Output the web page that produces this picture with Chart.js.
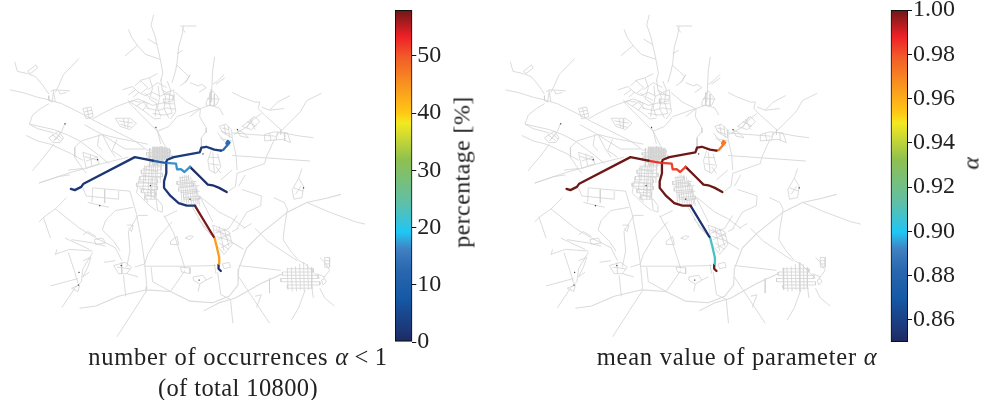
<!DOCTYPE html>
<html>
<head>
<meta charset="utf-8">
<script src="https://cdn.jsdelivr.net/npm/chart.js@4/dist/chart.umd.min.js"></script>
<style>
html, body { margin: 0; background: #fff; overflow: hidden; }
canvas { position: absolute; top: 0; }
.lbl { position: absolute; font-family: "Liberation Serif", serif; color: #222; font-size: 24px; white-space: nowrap; }
.rot { transform: translate(-50%, -50%) rotate(-90deg); letter-spacing: 0.4px; }
.cap { text-align: center; font-size: 24.5px; line-height: 31px; transform: translateX(-50%); letter-spacing: 0.75px; }
.cap span { letter-spacing: 0.4px; }
</style>
</head>
<body>
<canvas id="mapA" style="left:0"></canvas>
<canvas id="barA" style="left:380px"></canvas>
<canvas id="mapB" style="left:495px"></canvas>
<canvas id="barB" style="left:875px"></canvas>
<div class="lbl rot" style="left:462px;top:172px">percentage [%]</div>
<div class="lbl rot" style="left:971px;top:163px"><i>α</i></div>
<div class="lbl cap" style="left:238px;top:341px">number of occurrences <i>α</i>&thinsp;&lt;&thinsp;1<br><span>(of total 10800)</span></div>
<div class="lbl cap" style="left:737px;top:341px">mean value of parameter <i>α</i></div>
<script>
// colour scale
const cmapPos = [0, 0.03, 0.13, 0.22, 0.28, 0.33, 0.42, 0.55, 0.66, 0.69, 0.78, 0.86, 0.92, 1];
const cmapCol = ['#1f2860', '#1d3473', '#1558a5', '#2a68b0', '#4180c2', '#1fc6f4', '#60bfa8', '#8fc04f', '#f3e921', '#ffc815', '#f89020', '#f15a29', '#ee2027', '#6e1717'];

const pctTicks = [0, 10, 20, 30, 40, 50];
const alphaTicks = [0.86, 0.88, 0.90, 0.92, 0.94, 0.96, 0.98, 1.00];

// coloured route pieces, flat x,y lists in map units
const routePaths = [
  [203,568,215,572,235,562,242,552,400,470,455,481],
  [455,481,475,485,495,488],
  [495,488,500,478,520,470,545,465,600,455,605,441,620,438,645,447,665,450],
  [665,450,672,448,685,433,692,425,686,420,682,428],
  [497,488,527,490,530,508,542,507,553,516,570,500],
  [570,500,580,510,600,530,625,555,640,557,660,565,683,578],
  [497,490,497,520,490,545,490,565,510,590,535,612,560,620,585,620],
  [585,620,643,716],
  [645,718,652,745,660,780,660,800],
  [658,802,658,815,665,822]
];
const routePct = [2, 11, 3, 13, 17, 1, 2, 57.5, 44, 1];
const routeAlpha = [1, 0.985, 1, 0.972, 0.983, 1, 1, 0.853, 0.908, 1];

// wider bypass roads
const majorRoads = [
  [1035,585,990,597,930,610,870,640,790,705,745,750,720,815,718,865,690,900,640,920,570,915,510,885,435,880,350,900,280,930,230,937],
  [612,945,660,920,710,905,790,860,855,830],
  [695,730,735,755],
  [700,465,800,472,940,482]
];

const roads = [
  // north and north west
  [458,30,450,62,462,95,470,130,480,175,486,210,480,235],
  [380,75,390,100,408,125,432,152,478,168],[408,125,388,142,370,157],[440,105,468,122],
  [550,65,545,95,535,130,530,180,525,205,515,240],[540,65,590,65],[545,70,555,85],[530,150,548,140],[528,185,550,205,565,220],
  [228,165,205,190,180,215,165,250,155,270],
  [30,175,38,205,70,212,95,222,118,250,135,275],[70,205,95,185,100,195,78,212,70,205],
  [15,262,60,272,100,285,135,293,175,305,235,335],
  [140,268,150,262,200,265],[150,262,145,300,135,295],[135,280,135,295],[150,270,155,300],[165,265,170,275,190,270],
  [135,305,110,320,85,340,75,368,100,382,150,395],
  [235,335,280,360,320,380,400,420,440,450],
  [75,368,150,385,190,400,230,420,290,465,320,490],
  [65,403,100,420,140,430,205,460,240,480],
  [150,430,120,470,90,505,85,512],[185,365,175,390,150,420],
  [135,410,165,390,180,410,170,425,148,425,135,410],[145,400,170,420],[155,395,178,415],[150,420,170,400],
  [240,320,265,315,272,345,250,352,240,320],[245,330,268,325],[248,340,270,335],[252,318,260,350],
  [270,352,300,335,340,315,380,300,400,295],
  [215,440,215,470,235,500,250,520],[215,440,235,420,300,400,340,410,440,430],
  [245,370,290,395,330,420,370,445,430,445],
  [290,400,285,435,300,450],[300,400,320,440,340,470],[345,415,330,450,360,470],
  [340,350,385,350,405,365,385,385,355,375,340,350],[350,358,395,365],[355,368,390,378],[365,352,370,378],[380,352,378,382],
  [240,455,285,470,290,490,250,505,240,455],[245,468,288,480],[250,482,285,470],[262,460,268,498],
  [105,550,200,518,300,490,380,470],[195,510,240,505],[380,300,440,360,470,390,480,430],[465,380,495,440],[470,390,505,375,530,345],
  // north town, irregular
  [362,262,392,252,412,270,395,285],[400,250,420,232,445,225,470,212],[415,232,440,255,420,272],[378,295,405,312,432,330,460,352,480,350],
  [385,298,410,290,440,305,425,325],[408,268,432,280,455,270,478,282,500,270,520,262],[445,226,455,255,445,290,468,305,462,345],
  [480,230,485,262,495,285,490,320,505,350],[500,235,510,262,505,300,515,335],[520,262,522,300,526,330,510,352],
  [440,262,470,240,498,255],[472,250,476,285,470,318,480,345],[425,296,455,310,488,302,520,296],[435,318,470,326,498,318,525,322],
  [455,335,490,340,515,335],[482,262,515,280],[488,275,520,280,518,292,488,290,490,305,520,305],[405,312,425,300,445,322],
  [402,262,380,278],[418,300,400,298],[450,285,470,295],[430,272,445,285],
  [555,240,570,215,560,235,540,250],[530,345,600,320],[525,270,560,300,600,320],
  // north east
  [646,160,640,200,637,260,635,300],[620,300,640,265,660,290,650,310,620,310,620,300],[632,270,632,310],[645,275,645,310],[622,290,658,290],
  [675,215,655,235,640,245],[677,225,650,245],[570,240,595,250,605,245,620,255,598,270],
  [600,345,602,320,630,310,660,318,672,340],[602,320,570,345],[600,345,620,380,620,395],[620,390,605,410,605,450],
  [700,270,730,285,770,300,785,300,780,320,800,340,850,385,850,400],
  [878,280,840,300,815,325,790,315],[815,325,860,320],
  [975,273,930,295,910,330,880,360,850,390,830,410],[830,415,805,470,800,490,715,520],
  [705,400,740,380,770,350,790,335],[730,375,770,345,785,360,760,385,730,375],[745,360,775,375],[755,352,770,385],[765,345,745,380],
  [855,395,910,405,950,410],[800,400,830,392,870,395,880,425,855,415,800,420,800,400],[815,395,820,420],[840,392,835,418],[860,395,862,420],
  [700,395,760,400,830,405],[715,385,725,405,750,410,735,395,715,385],
  [660,375,680,368,698,385,700,410,690,405,672,395,660,375],[668,380,690,385],[665,390,695,400],[675,370,680,400],[688,375,692,410],[700,410,712,465,715,510],
  [655,395,672,415,700,420],[662,410,695,435],[635,450,625,480,630,510,650,520,665,500,655,460],[628,470,660,472],[630,490,660,495],[640,455,645,520],[650,500,665,520],
  [715,520,710,560,690,575],[740,525,720,560],[700,510,665,540],
  // centre town
  [440,448,510,448,510,456,436,456,436,464,515,464,515,472,436,472,436,480,490,480],
  [446,442,446,500],[456,438,456,495],[466,438,466,495],[476,438,476,485],[486,438,486,480],[496,440,496,478],[506,442,506,475],
  [452,442,500,442],[451,452,500,452],[440,460,512,460],[440,468,510,468],[440,476,495,476],[442,485,490,490],[438,495,490,495],
  [481,436,481,500],[461,438,461,498],[471,438,471,498],[491,440,491,478],[501,442,501,472],
  // south west quarter
  [430,500,480,500,480,510,420,510,420,520,485,520,485,530,415,530,415,540,470,540,470,550,405,550,405,560,470,560,470,570,420,570,420,580,465,580,465,590,430,590,430,600,470,600],
  [430,495,425,570,440,610],[445,495,440,590],[458,495,450,600],[470,500,465,590,470,635,485,640,485,620,470,600],[482,495,478,550],[415,530,405,580,440,615,465,635],
  [436,498,432,545],[452,498,448,590],[464,498,460,600],[425,505,470,515],[420,525,480,535],[412,545,470,555],[412,565,465,575],[430,585,465,595],
  // south east quarter
  [535,535,565,530,565,540,530,545,530,555,580,550,580,560,535,565,535,575,590,570,590,580,550,585,550,595,600,590,600,600,570,605],
  [540,530,545,610],[552,525,560,615],[565,525,575,615],[578,540,590,620],[590,560,600,620],[600,590,640,670],[605,595,660,640,700,660],
  [546,528,552,610],[558,525,566,612],[572,530,582,615],[584,548,595,615],[535,550,590,545],[532,560,598,558],[540,580,600,575],[550,600,600,598],
  // south
  [640,680,690,700,700,740,675,770,650,740,640,680],[645,695,695,715],[652,715,698,730],[660,735,690,755],[660,685,675,760],[675,690,690,745],
  [650,690,690,725],[648,705,690,690],[655,725,695,705],[665,750,695,735],
  [595,660,640,715],[575,620,615,690,640,715],[700,660,740,690],[715,650,690,690],[735,690,760,675],[700,700,720,690],
  [670,800,690,795,695,810,675,815,670,800],[655,825,665,895,695,910,702,983],[645,800,650,830],
  // east
  [905,535,885,570,890,600,915,595,920,560,905,535],[890,565,918,575],[895,585,912,560],[915,505,905,535],
  [930,610,1000,640,1080,670,1110,677],
  [828,595,860,610,870,630,860,695,857,725,880,760,905,790],
  [730,570,790,590,788,620,745,640,715,690],[770,690,810,730,870,770,900,790],
  [720,805,810,815,850,820],[815,845,815,890],[720,840,750,885,815,983],[770,900,790,895,775,935],
  [925,880,905,935,883,973],[970,875,985,905,1015,930],[945,870,950,905],
  [985,780,1000,780,1000,810,985,810,985,780],[985,790,1000,790],[985,800,1000,800],[970,780,985,795,1000,820,980,845],
  [975,850,985,845,990,855,980,865,975,850],
  [868,815,950,815,950,825,855,825,855,835,965,835,965,845,850,845,850,855,970,855,970,865,870,865,870,875,950,875],
  [870,812,872,880],[882,810,885,885],[895,808,898,885],[908,800,910,880],[920,795,922,885],[932,800,935,880],[945,810,945,875],[905,790,925,800,970,845],[960,830,985,840],
  // south west
  [105,550,165,530,200,525],[190,595,155,630,120,655,105,670],[118,655,140,720],
  [155,630,230,690,280,720,340,750,360,790],
  [270,565,385,575,405,645,420,725,430,795,437,870,435,885],[435,885,345,1025],
  [395,625,340,635,310,665,300,695,335,730,355,760],
  [240,565,250,590,350,600,350,575],[270,565,268,610],[307,570,307,612],[255,610,320,625],
  [205,725,270,735,310,745],[185,720,260,755],[155,770,200,755,270,760],[160,755,155,772],[195,765,215,825],
  [240,710,255,700,280,715],[275,725,300,720,310,735,280,740,275,725],[305,795,340,790],
  [270,765,240,815,235,855,215,875,175,935],[240,790,265,780,255,810,240,840,260,825],
  [205,875,230,865,225,885,205,875],[140,868,225,845],[215,825,225,860],
  [335,805,370,795,390,810,375,830,350,830,335,805],[345,810,385,815],[358,795,360,830],[365,835,372,900],[400,810,430,800],[375,830,410,840],
  [410,650,380,700,385,760,375,810],[375,680,395,680,390,700,380,690],[410,650,440,650],
  [490,650,520,705,555,815],[515,670,470,720,440,770,430,800],
  [430,807,560,807,650,805],[450,810,455,855,510,885],[510,885,555,820],
  [510,730,530,715,535,740,510,740,510,730],[555,720,570,713,580,715,570,725,555,720],[490,655,530,635],
  [540,810,570,812,570,830,545,825,540,810],[580,840,610,835,620,850,600,862,580,850,580,840],[620,850,640,840],[600,862,595,885]
];

// small dark specks in the map
const specksX = [185, 465, 285, 448, 292, 570, 358, 228, 226, 598, 920, 716, 610];
const specksY = [367, 378, 478, 558, 620, 600, 805, 826, 865, 850, 565, 385, 460];

function hexRgb(h) {
  return [1, 3, 5].map(i => parseInt(h.substr(i, 2), 16));
}

// same interpolation as the colorbar gradient
function cmap(t) {
  t = Math.min(1, Math.max(0, t));
  let i = 0;
  while (i < cmapPos.length - 2 && t > cmapPos[i + 1]) i++;
  const f = (t - cmapPos[i]) / (cmapPos[i + 1] - cmapPos[i]);
  const a = hexRgb(cmapCol[i]), b = hexRgb(cmapCol[i + 1]);
  const c = a.map((v, k) => Math.round(v + (b[k] - v) * f));
  return `rgb(${c[0]},${c[1]},${c[2]})`;
}

function toPoints(flat) {
  const pts = [];
  for (let i = 0; i < flat.length; i += 2) pts.push({ x: flat[i], y: flat[i + 1] });
  return pts;
}

// one dataset, null points break the polyline
function joinLines(lines) {
  const pts = [];
  lines.forEach(l => { pts.push(...toPoints(l)); pts.push({ x: null, y: null }); });
  return pts;
}

function drawMap(id, values, vMin, vMax, xShift) {
  const can = document.getElementById(id);
  can.width = 380; can.height = 345;
  // lower order draws on top
  const sets = [
    { data: joinLines(roads), borderColor: '#d2d2d2', borderWidth: 0.8, order: 3 },
    { data: joinLines(majorRoads), borderColor: '#dadada', borderWidth: 1.1, order: 2 },
    { data: specksX.map((x, i) => ({ x, y: specksY[i] })), showLine: false, pointRadius: 0.6, pointBackgroundColor: '#333', order: 1 }
  ];
  routePaths.forEach((p, i) => {
    sets.push({ data: toPoints(p), borderColor: cmap((values[i] - vMin) / (vMax - vMin)), borderWidth: 2.3, borderCapStyle: 'round', borderJoinStyle: 'round', order: 0 });
  });
  return new Chart(can.getContext('2d'), {
    type: 'scatter',
    data: { datasets: sets.map(s => Object.assign({ showLine: true, pointRadius: 0, spanGaps: false }, s)) },
    options: {
      responsive: false,
      animation: false,
      events: [],
      layout: { padding: 0 },
      plugins: { legend: { display: false }, tooltip: { enabled: false } },
      scales: {
        x: { display: false, min: -xShift, max: 1140 - xShift },
        y: { display: false, min: 0, max: 1035, reverse: true }
      }
    }
  });
}

function drawBar(id, canW, padL, barW, vMin, vMax, ticks, fmt) {
  const can = document.getElementById(id);
  can.width = canW; can.height = 400;
  return new Chart(can.getContext('2d'), {
    type: 'bar',
    data: {
      labels: [''],
      datasets: [{
        data: [[vMin, vMax]],
        barPercentage: 1,
        categoryPercentage: 1,
        borderColor: '#111',
        borderWidth: 1.3,
        borderSkipped: false,
        backgroundColor: ctx => {
          const a = ctx.chart.chartArea;
          if (!a) return '#888';
          const g = ctx.chart.ctx.createLinearGradient(0, a.bottom, 0, a.top);
          cmapPos.forEach((p, i) => g.addColorStop(p, cmapCol[i]));
          return g;
        }
      }]
    },
    options: {
      responsive: false,
      animation: false,
      events: [],
      layout: { padding: { top: 10, bottom: 58, left: padL, right: 0 } },
      plugins: { legend: { display: false }, tooltip: { enabled: false } },
      scales: {
        x: { display: false },
        y: {
          position: 'right',
          min: vMin,
          max: vMax,
          afterBuildTicks: s => { s.ticks = ticks.map(v => ({ value: v })); },
          afterFit: s => { s.width = canW - padL - barW; s.paddingTop = 0; s.paddingBottom = 0; },
          grid: { drawOnChartArea: false, drawTicks: true, tickLength: 4, tickColor: '#111', tickWidth: 1 },
          border: { display: false },
          ticks: {
            padding: 1,
            color: '#222',
            autoSkip: false,
            maxRotation: 0,
            font: { family: 'Liberation Serif', size: 24 },
            callback: v => fmt(v)
          }
        }
      }
    }
  });
}

drawMap('mapA', routePct, 0, 58, 0);
drawMap('mapB', routeAlpha, 0.85, 1, 2);
drawBar('barA', 80, 15, 17.3, 0, 58, pctTicks, v => String(v));
drawBar('barB', 90, 15.7, 17.3, 0.85, 1, alphaTicks, v => v.toFixed(2));
</script>
</body>
</html>
